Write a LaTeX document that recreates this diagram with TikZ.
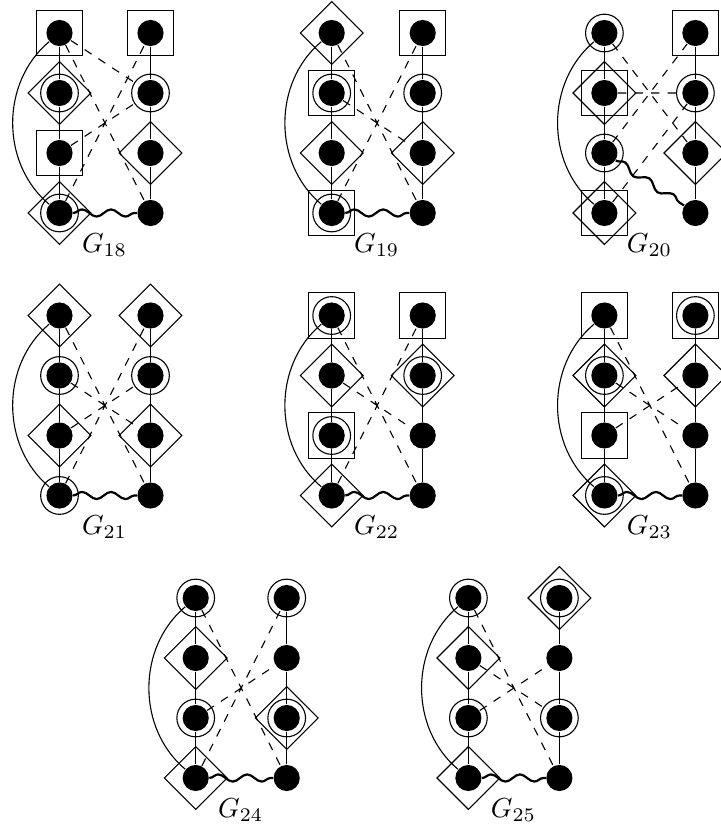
\documentclass[tikz,border=0pt]{standalone}
\usetikzlibrary{shapes.geometric,decorations.pathmorphing}
\tikzset{
  x=0.3636pt, y=0.3636pt,
  v/.style={circle, fill=black, inner sep=0pt, minimum size=9.5pt},
  sq/.style={rectangle, draw, inner sep=0pt, minimum size=16.6pt},
  dia/.style={diamond, draw, inner sep=0pt, minimum size=23pt, aspect=1},
  ring/.style={circle, draw, inner sep=0pt, minimum size=13.7pt},
  dedge/.style={dashed},
  wave/.style={decorate, decoration={snake, amplitude=1.3pt, segment length=10.5pt}, line width=0.8pt},
  arcedge/.style={bend right=50},
  lab/.style={anchor=base, inner sep=0pt}
}
\newcommand{\mkgraph}[4]{%
  \begin{scope}[shift={(#2,#3)}]
    \foreach \i/\yy in {1/0,2/-60,3/-120,4/-180}{
      \node[v] (#1L\i) at (0,\yy) {};
      \node[v] (#1R\i) at (91,\yy) {};
    }
    \node[lab] (#1lab) at (45,-219) {$G_{#4}$};
  \end{scope}
  \draw (#1L1)--(#1L2) (#1L2)--(#1L3) (#1L3)--(#1L4);
  \draw (#1R1)--(#1R2) (#1R2)--(#1R3) (#1R3)--(#1R4);
  \draw (#1L1) to[arcedge] (#1L4);
}
\newcommand{\deco}[2]{\node[#2] (#1#2) at (#1) {};}
\begin{document}
\begin{tikzpicture}
\useasboundingbox (0,0) rectangle (720,827);

% G18
\mkgraph{p18}{59.5}{794}{18}
\deco{p18L1}{sq}\deco{p18L2}{dia}\deco{p18L2}{ring}\deco{p18L3}{sq}
\deco{p18L4}{dia}\deco{p18L4}{ring}
\deco{p18R1}{sq}\deco{p18R2}{ring}\deco{p18R3}{dia}
\draw[dedge] (p18L1)--(p18R2) (p18L1)--(p18R4) (p18L3)--(p18R2) (p18L4)--(p18R1);
\draw[wave] (p18L4)--(p18R4);

% G19
\mkgraph{p19}{331.7}{794}{19}
\deco{p19L1}{dia}\deco{p19L2}{sq}\deco{p19L2}{ring}\deco{p19L3}{dia}
\deco{p19L4}{sq}\deco{p19L4}{ring}
\deco{p19R1}{sq}\deco{p19R2}{ring}\deco{p19R3}{dia}
\draw[dedge] (p19L1)--(p19R4) (p19L2)--(p19R3) (p19L4)--(p19R1);
\draw[wave] (p19L4)--(p19R4);

% G20
\mkgraph{p20}{604.4}{794}{20}
\deco{p20L1}{ring}\deco{p20L2}{sq}\deco{p20L2}{dia}\deco{p20L3}{ring}
\deco{p20L4}{sq}\deco{p20L4}{dia}
\deco{p20R1}{sq}\deco{p20R2}{ring}\deco{p20R3}{dia}
\draw[dedge] (p20L1)--(p20R3) (p20L2)--(p20R2) (p20L3)--(p20R1) (p20L4)--(p20R2);
\draw[wave] (p20L3)--(p20R4);

% G21
\mkgraph{p21}{59.5}{511.5}{21}
\deco{p21L1}{dia}\deco{p21L2}{ring}\deco{p21L3}{dia}\deco{p21L4}{ring}
\deco{p21R1}{dia}\deco{p21R2}{ring}\deco{p21R3}{dia}
\draw[dedge] (p21L1)--(p21R4) (p21L2)--(p21R3) (p21L3)--(p21R2) (p21L4)--(p21R1);
\draw[wave] (p21L4)--(p21R4);

% G22
\mkgraph{p22}{331.7}{511.5}{22}
\deco{p22L1}{sq}\deco{p22L1}{ring}\deco{p22L2}{dia}\deco{p22L3}{sq}\deco{p22L3}{ring}
\deco{p22L4}{dia}
\deco{p22R1}{sq}\deco{p22R2}{dia}\deco{p22R2}{ring}
\draw[dedge] (p22L1)--(p22R4) (p22L2)--(p22R3) (p22L4)--(p22R1);
\draw[wave] (p22L4)--(p22R4);

% G23
\mkgraph{p23}{604.4}{511.5}{23}
\deco{p23L1}{sq}\deco{p23L2}{dia}\deco{p23L2}{ring}\deco{p23L3}{sq}
\deco{p23L4}{dia}\deco{p23L4}{ring}
\deco{p23R1}{sq}\deco{p23R1}{ring}\deco{p23R2}{dia}
\draw[dedge] (p23L1)--(p23R4) (p23L2)--(p23R3) (p23L3)--(p23R2);
\draw[wave] (p23L4)--(p23R4);

% G24
\mkgraph{p24}{195.7}{229}{24}
\deco{p24L1}{ring}\deco{p24L2}{dia}\deco{p24L3}{ring}\deco{p24L4}{dia}
\deco{p24R1}{ring}\deco{p24R3}{dia}\deco{p24R3}{ring}
\draw[dedge] (p24L1)--(p24R4) (p24L3)--(p24R2) (p24L4)--(p24R1);
\draw[wave] (p24L4)--(p24R4);

% G25
\mkgraph{p25}{468.4}{229}{25}
\deco{p25L1}{ring}\deco{p25L2}{dia}\deco{p25L3}{ring}\deco{p25L4}{dia}
\deco{p25R1}{dia}\deco{p25R1}{ring}\deco{p25R3}{ring}
\draw[dedge] (p25L1)--(p25R4) (p25L2)--(p25R3) (p25L3)--(p25R2);
\draw[wave] (p25L4)--(p25R4);
\end{tikzpicture}
\end{document}
